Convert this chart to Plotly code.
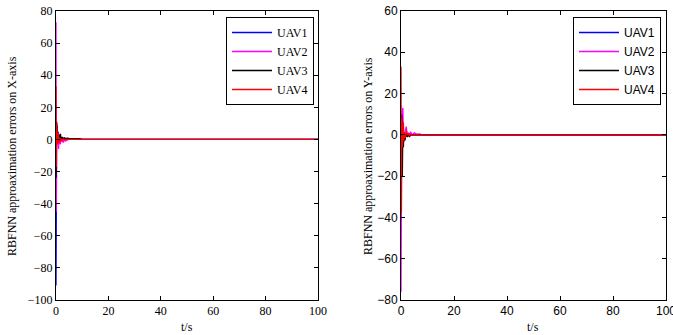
import plotly.graph_objects as go

# ---- data: X-axis approximation errors (left) ----
tx = [0, 0.1, 0.25, 0.4, 0.6, 0.8, 1.0, 1.2, 1.4, 1.7, 2.0, 2.4, 2.8, 3.2, 3.6, 4.2, 5.0, 6.0, 7.5, 9.0, 10.0, 100]
x_uav1 = [-91, -20, 9, 7, 2, 5, -2, 3, -1, 2, 0.5, 1, 0, 0.5, 0, 0.2, 0, 0.1, 0, 0, 0, 0]
x_uav2 = [73, -45, 5, 8, -3, -1, -6, 2, -2, -3, 1, -1, -2, 0.5, -1, -0.5, 0.2, 0, 0, 0, 0, 0]
x_uav3 = [-24, 10, 11, 8, -2, 1, 3, -1, 1, 3.5, -1, 1.5, 0.5, 1, 0.5, 0.8, 0.6, 0.6, 0.5, 0.5, 0, 0]
x_uav4 = [33, -17, 9, 4, -3, 4, 0, -2, 1, -1.5, 0.5, -1, 0.3, -0.3, 0, 0, 0, 0, 0, 0, 0, 0]

# ---- data: Y-axis approximation errors (right) ----
ty = [0, 0.15, 0.3, 0.5, 0.7, 0.9, 1.1, 1.3, 1.6, 2.0, 2.4, 2.8, 3.2, 3.6, 4.2, 5.0, 6.0, 7.0, 8.0, 100]
y_uav1 = [0, 10, 10, 9, -3, 2, 0, 1, -1, 0.5, 0, 0.3, 0, 0, 0, 0, 0, 0, 0, 0]
y_uav2 = [-76, 0, 8, 12, 13, -2, 1, 0, 2, 4, -1, 1, 0, 1.5, 0, 1, 0.3, 0.5, 0, 0]
y_uav3 = [0, 10, 9, -20, 2, -6, 1, -3, -2, 1, -1, 0.5, -1, 0, 0, 0, 0, 0, 0, 0]
y_uav4 = [33, -38, 8, -6, 2, 6, -3, 1, -1.5, 2, 0, 0.5, -0.5, 0.3, 0, 0, 0, 0, 0, 0]

names = ["UAV1", "UAV2", "UAV3", "UAV4"]
colors = ["#0000ff", "#ff00ff", "#000000", "#ff0000"]

xticks_left = [-100, -80, -60, -40, -20, 0, 20, 40, 60, 80]
yticks_right = [-80, -60, -40, -20, 0, 20, 40, 60]
tticks = [0, 20, 40, 60, 80, 100]

fig = go.Figure()
for n, c, v in zip(names, colors, [x_uav1, x_uav2, x_uav3, x_uav4]):
    fig.add_trace(go.Scatter(x=tx, y=v, mode="lines", name=n, line=dict(color=c, width=1.3),
                             xaxis="x", yaxis="y", legend="legend"))
for n, c, v in zip(names, colors, [y_uav1, y_uav2, y_uav3, y_uav4]):
    fig.add_trace(go.Scatter(x=ty, y=v, mode="lines", name=n, line=dict(color=c, width=1.3),
                             xaxis="x2", yaxis="y2", legend="legend2"))

serif = "Liberation Serif"
sans = "Liberation Sans"
W, H = 673, 335
ydom = [(H - 300) / H, (H - 11) / H]

axcommon = dict(showgrid=False, zeroline=False, showline=True, linecolor="black", linewidth=1,
                mirror="ticks", ticks="inside", ticklen=4, tickcolor="black", automargin=False,
                ticklabeloverflow="allow")

fig.update_layout(
    template="none",
    width=W, height=H, margin=dict(l=0, r=0, t=0, b=0, pad=0, autoexpand=False),
    paper_bgcolor="white", plot_bgcolor="white", showlegend=True,
    xaxis=dict(domain=[56 / W, 318 / W], range=[0, 100], tickvals=tticks, anchor="y",
               tickfont=dict(family=serif, size=12, color="black"), **axcommon),
    yaxis=dict(domain=ydom, range=[-100, 80], tickvals=xticks_left, anchor="x",
               tickfont=dict(family=serif, size=12, color="black"), **axcommon),
    xaxis2=dict(domain=[401 / W, 666 / W], range=[0, 100], tickvals=tticks, anchor="y2",
                tickfont=dict(family=sans, size=12, color="black"), **axcommon),
    yaxis2=dict(domain=ydom, range=[-80, 60], tickvals=yticks_right, anchor="x2",
                tickfont=dict(family=sans, size=12, color="black"), **axcommon),
    legend=dict(x=314 / W, y=1 - 17 / H, xanchor="right", yanchor="top", itemwidth=40,
                bordercolor="black", borderwidth=1, bgcolor="white",
                font=dict(family=serif, size=12, color="black"), tracegroupgap=0),
    legend2=dict(x=661 / W, y=1 - 17 / H, xanchor="right", yanchor="top", itemwidth=40,
                 bordercolor="black", borderwidth=1, bgcolor="white",
                 font=dict(family=sans, size=12, color="black"), tracegroupgap=0),
    annotations=[
        dict(text="t/s", x=187 / W, y=1 - 327 / H, xref="paper", yref="paper", showarrow=False,
             xanchor="center", yanchor="middle", font=dict(family=serif, size=12, color="black")),
        dict(text="t/s", x=533 / W, y=1 - 327 / H, xref="paper", yref="paper", showarrow=False,
             xanchor="center", yanchor="middle", font=dict(family=serif, size=12, color="black")),
        dict(text="RBFNN approaximation errors on X-axis", x=12 / W, y=1 - 156 / H, xref="paper",
             yref="paper", showarrow=False, textangle=-90, xanchor="center", yanchor="middle",
             font=dict(family=serif, size=12, color="black")),
        dict(text="RBFNN approaximation errors on Y-axis", x=368 / W, y=1 - 156 / H, xref="paper",
             yref="paper", showarrow=False, textangle=-90, xanchor="center", yanchor="middle",
             font=dict(family=serif, size=12, color="black")),
    ],
)

fig.write_html("out.html", config={"displayModeBar": False},
               post_script="document.body.style.margin='0';document.body.style.overflow='hidden';")
